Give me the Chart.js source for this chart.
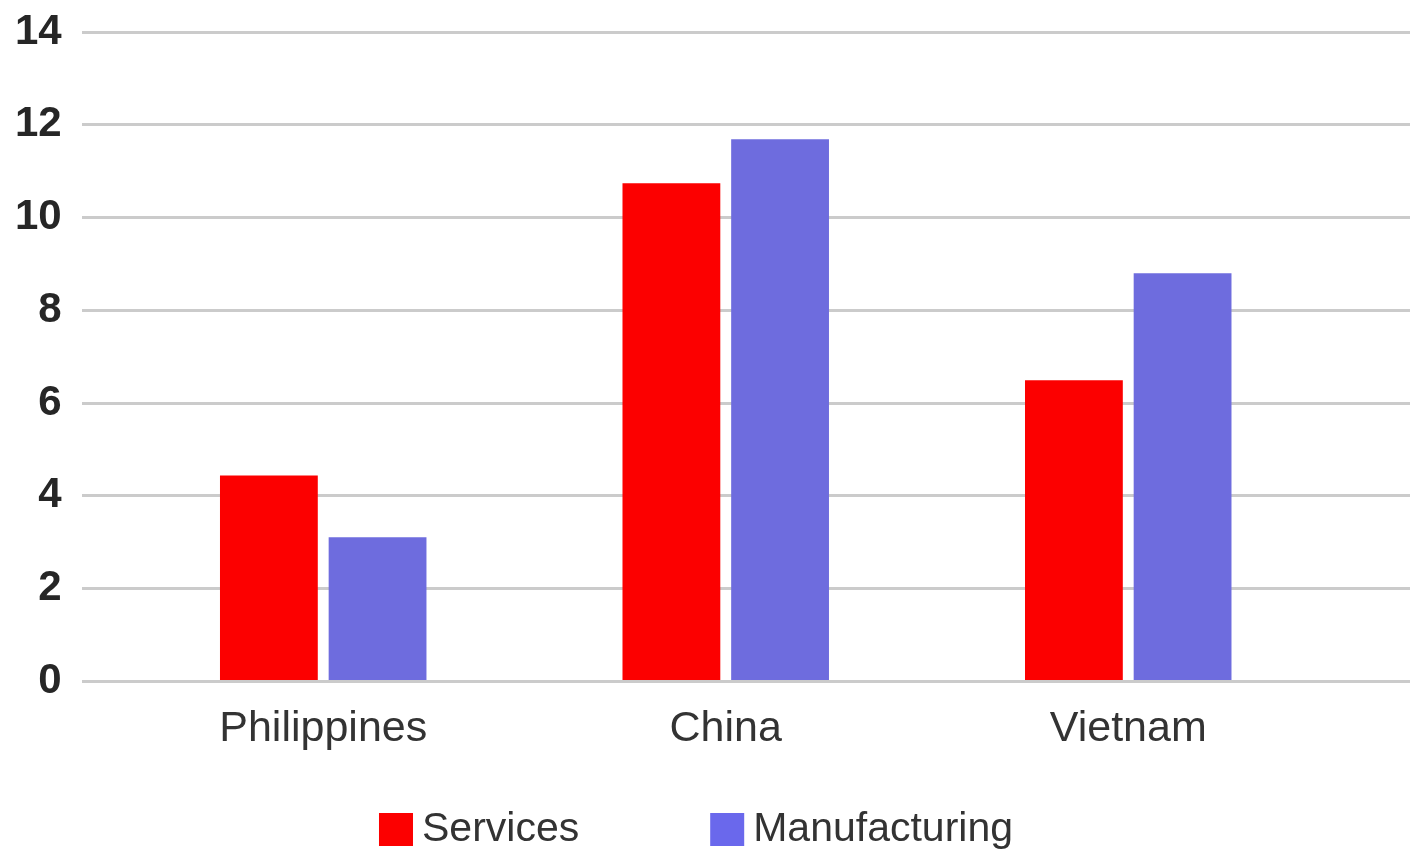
<!DOCTYPE html>
<html>
<head>
<meta charset="utf-8">
<script src="https://cdn.jsdelivr.net/npm/chart.js@4.4.1/dist/chart.umd.min.js"></script>
<style>
  html, body { margin: 0; padding: 0; background: #fff; }
  #wrap { width: 1410px; height: 851px; }
</style>
</head>
<body>
<div id="wrap"><canvas id="chart" width="1410" height="851"></canvas></div>
<script>
const countries = ['Philippines', 'China', 'Vietnam'];
const services = [4.44, 10.74, 6.49];
const manufacturing = [3.11, 11.69, 8.8];
const yTicks = [0, 2, 4, 6, 8, 10, 12, 14];

const FONT = "'Liberation Sans', Arial, sans-serif";

// legend drawn by hand so box/text gaps match the original
const bottomLegend = {
  id: 'bottomLegend',
  afterDraw(chart) {
    const ctx = chart.ctx;
    const box = 34, gap = 9, itemGap = 131;
    ctx.save();
    ctx.font = '41px ' + FONT;
    ctx.textBaseline = 'middle';
    const items = chart.data.datasets.map(ds => ({
      text: ds.label, color: ds.legendColor || ds.backgroundColor,
      w: ctx.measureText(ds.label).width
    }));
    let total = items.reduce((s, it) => s + box + gap + it.w, 0) + itemGap * (items.length - 1);
    let x = chart.width / 2 - 9 - total / 2;
    const y = 829;
    items.forEach(it => {
      ctx.fillStyle = it.color;
      ctx.fillRect(x, y - 16, box, 33);
      ctx.fillStyle = '#333';
      ctx.fillText(it.text, x + box + gap, y + 1);
      x += box + gap + it.w + itemGap;
    });
    ctx.restore();
  }
};

new Chart(document.getElementById('chart'), {
  type: 'bar',
  data: {
    datasets: [
      {
        label: 'Services',
        data: services.map((v, i) => ({ x: i, y: v })),
        backgroundColor: '#fc0000'
      },
      {
        label: 'Manufacturing',
        data: manufacturing.map((v, i) => ({ x: i, y: v })),
        backgroundColor: '#6e6cde',
        legendColor: '#6a68ec'
      }
    ]
  },
  options: {
    responsive: false,
    animation: false,
    categoryPercentage: 0.54,
    barPercentage: 0.9,
    layout: { padding: { left: -5, right: 0, top: 32, bottom: 82 } },
    plugins: {
      legend: { display: false },
      tooltip: { enabled: false }
    },
    scales: {
      x: {
        type: 'linear',
        offset: false,
        min: -0.6,
        max: 2.7,
        afterBuildTicks: axis => { axis.ticks = countries.map((c, i) => ({ value: i })); },
        grid: { display: false },
        border: { display: false },
        ticks: {
          callback: v => countries[v],
          color: '#333',
          padding: 14,
          maxRotation: 0,
          autoSkip: false,
          font: { family: FONT, size: 43 }
        }
      },
      y: {
        min: 0,
        max: 14,
        afterBuildTicks: axis => { axis.ticks = yTicks.map(v => ({ value: v })); },
        // top label may stick out above the plot area, as in the original
        afterFit: axis => { axis.paddingTop = 0; },
        grid: { color: '#cbcbcb', lineWidth: 3, drawTicks: false },
        border: { display: false },
        ticks: {
          color: '#262626',
          padding: 20,
          font: { family: FONT, size: 42, weight: 'bold', lineHeight: 1 }
        }
      }
    }
  },
  plugins: [bottomLegend]
});
</script>
</body>
</html>
